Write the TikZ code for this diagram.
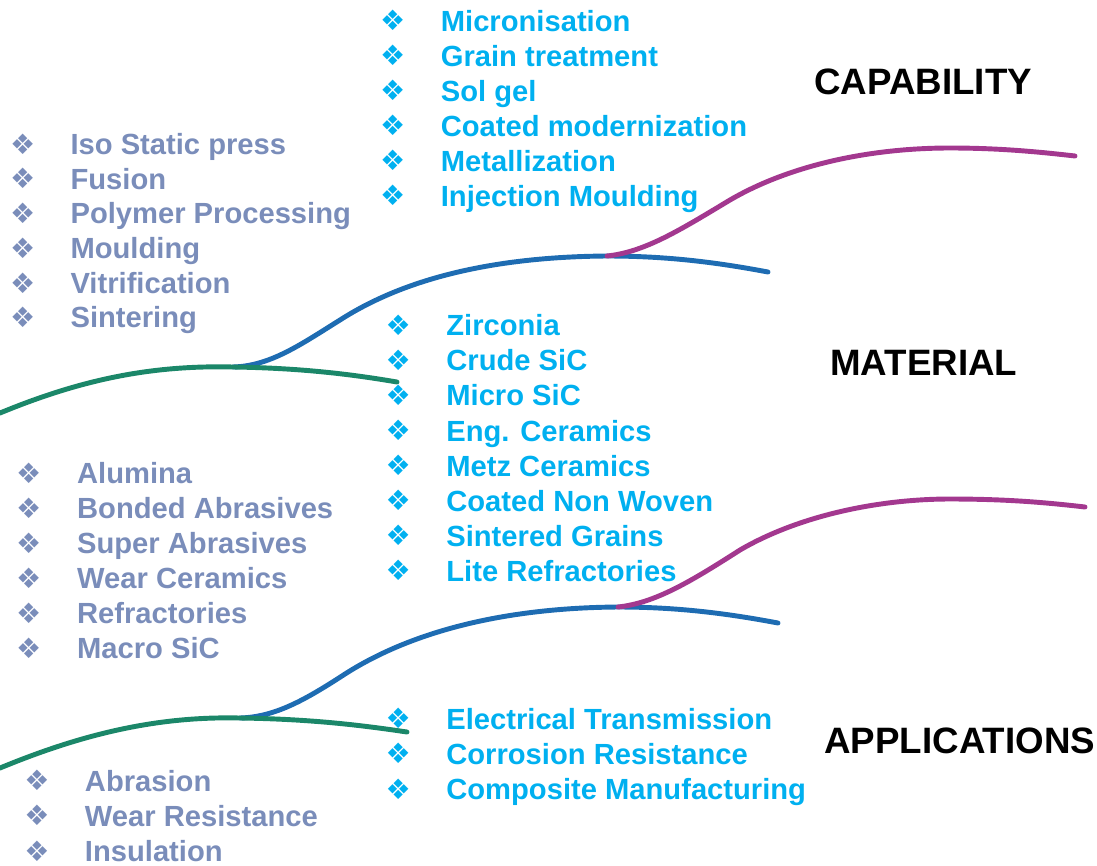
\documentclass[tikz,border=0pt]{standalone}
\usepackage{fontspec}
\setmainfont{Liberation Sans}
\newfontfamily\dvfont{DejaVu Sans}
\definecolor{graytxt}{RGB}{122,141,186}
\definecolor{cyantxt}{RGB}{0,176,240}
\definecolor{lgreen}{RGB}{27,135,105}
\definecolor{lblue}{RGB}{30,108,178}
\definecolor{lpurple}{RGB}{163,56,143}
\tikzset{
  itemtxt/.style={anchor=base west, inner sep=0pt, font=\fontsize{16.6}{20}\selectfont\bfseries},
  gt/.style={itemtxt, text=graytxt},
  ct/.style={itemtxt, text=cyantxt},
  bul/.style={anchor=center, inner sep=0pt, font=\dvfont\fontsize{16}{16}\selectfont},
  gb/.style={bul, text=graytxt},
  cb/.style={bul, text=cyantxt},
  head/.style={anchor=base west, inner sep=0pt, font=\fontsize{20.9}{24}\selectfont\bfseries, text=black},
  curve/.style={line width=2.8pt, line cap=round},
}
\begin{document}
\begin{tikzpicture}[x=0.02cm,y=-0.02cm]
\path[use as bounding box] (0,0) rectangle (1097,865);

% ---- curves (upper) ----
\coordinate (s1) at (0,413);
\coordinate (j1) at (233,367);
\coordinate (e1) at (397,382);
\coordinate (j2) at (607,256);
\coordinate (e2) at (768,272);
\coordinate (e3) at (1075,156);
\draw[curve, lblue] (j1) .. controls (270,366) and (300,345) .. (340,320)
   .. controls (390,288) and (470,257) .. (j2)
   .. controls (670,256) and (720,263) .. (e2);
\draw[curve, lgreen] (s1) .. controls (80,380) and (150,365) .. (j1)
   .. controls (300,368) and (350,374) .. (e1);
\draw[curve, lpurple] (j2) .. controls (645,252) and (680,230) .. (730,200)
   .. controls (790,165) and (870,148) .. (950,148)
   .. controls (1000,148) and (1040,152) .. (e3);

% ---- curves (lower) ----
\coordinate (s2) at (0,768);
\coordinate (j3) at (240,718);
\coordinate (e4) at (407,732);
\coordinate (j4) at (618,607);
\coordinate (e5) at (778,623);
\coordinate (e6) at (1085,507);
\draw[curve, lblue] (j3) .. controls (275,717) and (305,700) .. (345,674)
   .. controls (395,642) and (480,608) .. (j4)
   .. controls (680,607) and (730,614) .. (e5);
\draw[curve, lgreen] (s2) .. controls (80,735) and (155,716) .. (j3)
   .. controls (310,719) and (360,725) .. (e4);
\draw[curve, lpurple] (j4) .. controls (655,603) and (690,582) .. (740,550)
   .. controls (800,515) and (880,499) .. (950,499)
   .. controls (1010,499) and (1050,503) .. (e6);

% ---- headings ----
\node[head] (hcap) at (814,94) {CAPABILITY};
\node[head] (hmat) at (830,375) {MATERIAL};
\node[head] (happ) at (824,753) {APPLICATIONS};

% ---- group 1 (processes, grey) ----
\foreach \t [count=\i] in {Iso Static press, Fusion, Polymer Processing, Moulding, Vitrification, Sintering}{
  \node[gt] (pa\i) at (70.2,{154.3+34.7*(\i-1)}) {\t};
  \node[gb] (pab\i) at (22.7,{144+34.7*(\i-1)}) {❖};
}
% ---- group 2 (capability, cyan) ----
\foreach \t [count=\i] in {Micronisation, Grain treatment, Sol gel, Coated modernization, Metallization, Injection Moulding}{
  \node[ct] (ca\i) at (440.5,{31.5+35*(\i-1)}) {\t};
  \node[cb] (cab\i) at (392.7,{20.7+35*(\i-1)}) {❖};
}
% ---- group 3 (material, cyan) ----
\foreach \t [count=\i] in {Zirconia, Crude SiC, Micro SiC, Eng. Ceramics, Metz Ceramics, Coated Non Woven, Sintered Grains, Lite Refractories}{
  \node[ct] (ma\i) at (446,{335.7+35.1*(\i-1)}) {\t};
  \node[cb] (mab\i) at (398.3,{325+35.1*(\i-1)}) {❖};
}
% ---- group 4 (products, grey) ----
\foreach \t [count=\i] in {Alumina, Bonded Abrasives, Super Abrasives, Wear Ceramics, Refractories, Macro SiC}{
  \node[gt] (pr\i) at (76.8,{483.3+35*(\i-1)}) {\t};
  \node[gb] (prb\i) at (28.8,{473+35*(\i-1)}) {❖};
}
% ---- group 5 (applications, cyan) ----
\foreach \t [count=\i] in {Electrical Transmission, Corrosion Resistance, Composite Manufacturing}{
  \node[ct] (ap\i) at (446,{729+35.3*(\i-1)}) {\t};
  \node[cb] (apb\i) at (398.3,{718.3+35.3*(\i-1)}) {❖};
}
% ---- group 6 (applications, grey) ----
\foreach \t [count=\i] in {Abrasion, Wear Resistance, Insulation}{
  \node[gt] (ab\i) at (84.6,{791+35.2*(\i-1)}) {\t};
  \node[gb] (abb\i) at (37,{780.5+35.2*(\i-1)}) {❖};
}
\end{tikzpicture}
\end{document}
